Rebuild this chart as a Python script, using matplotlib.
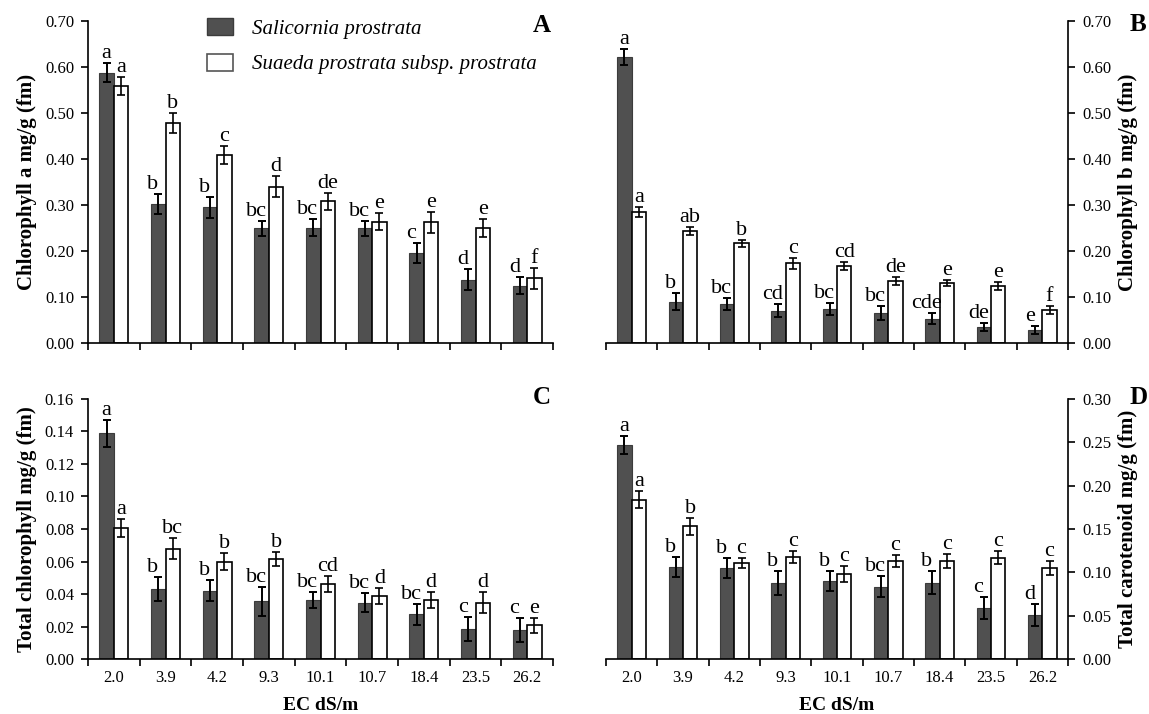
import numpy as np
import matplotlib
matplotlib.use("Agg")
import matplotlib.pyplot as plt
from matplotlib.patches import Patch

plt.rcParams['font.family'] = ['Liberation Serif', 'DejaVu Serif']

ec_labels = ['2.0', '3.9', '4.2', '9.3', '10.1', '10.7', '18.4', '23.5', '26.2']
species = ['Salicornia prostrata', 'Suaeda prostrata subsp. prostrata']

# A: chlorophyll a
chla_sal = [0.588, 0.302, 0.295, 0.249, 0.251, 0.249, 0.196, 0.138, 0.125]
chla_sal_err = [0.021, 0.021, 0.023, 0.017, 0.019, 0.017, 0.022, 0.022, 0.018]
chla_sua = [0.559, 0.478, 0.409, 0.340, 0.308, 0.264, 0.262, 0.250, 0.141]
chla_sua_err = [0.019, 0.022, 0.020, 0.022, 0.019, 0.019, 0.022, 0.020, 0.023]
chla_sal_let = ['a', 'b', 'b', 'bc', 'bc', 'bc', 'c', 'd', 'd']
chla_sua_let = ['a', 'b', 'c', 'd', 'de', 'e', 'e', 'e', 'f']

# B: chlorophyll b
chlb_sal = [0.622, 0.090, 0.084, 0.070, 0.073, 0.066, 0.053, 0.035, 0.028]
chlb_sal_err = [0.017, 0.018, 0.013, 0.014, 0.013, 0.015, 0.012, 0.008, 0.009]
chlb_sua = [0.285, 0.243, 0.217, 0.173, 0.167, 0.135, 0.130, 0.124, 0.072]
chlb_sua_err = [0.011, 0.009, 0.008, 0.012, 0.009, 0.009, 0.007, 0.009, 0.009]
chlb_sal_let = ['a', 'b', 'bc', 'cd', 'bc', 'bc', 'cde', 'de', 'e']
chlb_sua_let = ['a', 'ab', 'b', 'c', 'cd', 'de', 'e', 'e', 'f']

# C: total chlorophyll
tot_sal = [0.1388, 0.0429, 0.0421, 0.0355, 0.0363, 0.0347, 0.0275, 0.0185, 0.0180]
tot_sal_err = [0.0083, 0.0073, 0.0064, 0.0089, 0.0052, 0.0060, 0.0063, 0.0074, 0.0074]
tot_sua = [0.0805, 0.0680, 0.0598, 0.0616, 0.0460, 0.0388, 0.0363, 0.0347, 0.0207]
tot_sua_err = [0.0055, 0.0062, 0.0053, 0.0041, 0.0050, 0.0048, 0.0050, 0.0063, 0.0047]
tot_sal_let = ['a', 'b', 'b', 'bc', 'bc', 'bc', 'bc', 'c', 'c']
tot_sua_let = ['a', 'bc', 'b', 'b', 'cd', 'd', 'd', 'd', 'e']

# D: total carotenoid
car_sal = [0.247, 0.106, 0.105, 0.088, 0.090, 0.0835, 0.088, 0.0588, 0.051]
car_sal_err = [0.010, 0.0115, 0.0115, 0.014, 0.0115, 0.0123, 0.0133, 0.0129, 0.013]
car_sua = [0.184, 0.153, 0.111, 0.118, 0.098, 0.113, 0.113, 0.117, 0.105]
car_sua_err = [0.0094, 0.0096, 0.006, 0.007, 0.009, 0.0065, 0.008, 0.0077, 0.0077]
car_sal_let = ['a', 'b', 'b', 'b', 'b', 'bc', 'b', 'c', 'd']
car_sua_let = ['a', 'b', 'c', 'c', 'c', 'c', 'c', 'c', 'c']

DARK = '#505050'
W = 0.28


def draw_panel(ax, sal, sal_err, sua, sua_err, sal_let, sua_let,
               ymax, ystep, ylabel, letter, letter_pos, right=False,
               xlabels=False):
    x = np.arange(len(ec_labels))
    ax.bar(x - W / 2, sal, W, color=DARK, edgecolor='#3c3c3c', linewidth=0.8,
           yerr=sal_err, error_kw=dict(ecolor='black', elinewidth=1.4,
                                       capsize=3, capthick=1.4))
    ax.bar(x + W / 2, sua, W, color='white', edgecolor='black', linewidth=1.2,
           yerr=sua_err, error_kw=dict(ecolor='black', elinewidth=1.2,
                                       capsize=3, capthick=1.2))
    for i in x:
        dx = -4 if i > 0 else 0
        ax.annotate(sal_let[i], (i - W / 2, sal[i] + sal_err[i]),
                    xytext=(dx, 0), textcoords='offset points',
                    ha='center', va='bottom', fontsize=16)
        ax.annotate(sua_let[i], (i + W / 2, sua[i] + sua_err[i]),
                    xytext=(0, 0), textcoords='offset points',
                    ha='center', va='bottom', fontsize=16)

    ax.set_xlim(-0.5, len(ec_labels) - 0.5)
    ax.set_ylim(0, ymax)
    ax.set_yticks(np.arange(0, ymax + ystep / 2, ystep))
    ax.yaxis.set_major_formatter(plt.FormatStrFormatter('%.2f'))

    ax.set_xticks(np.arange(-0.5, len(ec_labels), 1.0))
    ax.set_xticklabels([])
    ax.set_xticks(x, minor=True)
    if xlabels:
        ax.set_xticklabels(ec_labels, minor=True)
        ax.set_xlabel('EC dS/m', fontsize=14, fontweight='bold', labelpad=8)
    ax.tick_params(axis='x', which='major', direction='out', length=5, width=1.2)
    ax.tick_params(axis='x', which='minor', length=0, labelsize=12, pad=8)
    ax.tick_params(axis='y', direction='out', length=5, width=1.2,
                   labelsize=12, pad=5)

    for s in ['top', 'right', 'left', 'bottom']:
        ax.spines[s].set_linewidth(1.2)
    ax.spines['top'].set_visible(False)
    if right:
        ax.spines['left'].set_visible(False)
        ax.yaxis.tick_right()
        ax.yaxis.set_label_position('right')
        ax.set_ylabel(ylabel, fontsize=15, fontweight='bold',
                      rotation=90, labelpad=5)
    else:
        ax.spines['right'].set_visible(False)
        ax.set_ylabel(ylabel, fontsize=15, fontweight='bold', labelpad=6)
    ax.text(letter_pos[0], letter_pos[1], letter, transform=ax.transAxes,
            fontsize=18, fontweight='bold', ha='center', va='center')


fig = plt.figure(figsize=(11.49, 7.14), dpi=100)
axA = fig.add_axes([0.0766, 0.5196, 0.4047, 0.451])
axB = fig.add_axes([0.5274, 0.5196, 0.4021, 0.451])
axC = fig.add_axes([0.0766, 0.0770, 0.4047, 0.3642])
axD = fig.add_axes([0.5274, 0.0770, 0.4021, 0.3642])

draw_panel(axA, chla_sal, chla_sal_err, chla_sua, chla_sua_err,
           chla_sal_let, chla_sua_let, 0.70, 0.10, 'Chlorophyll a mg/g (fm)',
           'A', (0.976, 0.985))
draw_panel(axB, chlb_sal, chlb_sal_err, chlb_sua, chlb_sua_err,
           chlb_sal_let, chlb_sua_let, 0.70, 0.10, 'Chlorophyll b mg/g (fm)',
           'B', (1.152, 0.988), right=True)
draw_panel(axC, tot_sal, tot_sal_err, tot_sua, tot_sua_err,
           tot_sal_let, tot_sua_let, 0.16, 0.02, 'Total chlorophyll mg/g (fm)',
           'C', (0.976, 1.005), xlabels=True)
draw_panel(axD, car_sal, car_sal_err, car_sua, car_sua_err,
           car_sal_let, car_sua_let, 0.30, 0.05, 'Total carotenoid mg/g (fm)',
           'D', (1.152, 1.005), right=True, xlabels=True)

handles = [Patch(facecolor=DARK, edgecolor='#3c3c3c'),
           Patch(facecolor='white', edgecolor='#555555', linewidth=1.2)]
axA.legend(handles, species, loc='upper left', bbox_to_anchor=(0.256, 1.01),
           frameon=False, prop=dict(style='italic', size=15),
           borderpad=0, borderaxespad=0,
           handlelength=1.25, handleheight=0.9, handletextpad=0.9,
           labelspacing=0.72)

fig.savefig('out.png', dpi=100)
